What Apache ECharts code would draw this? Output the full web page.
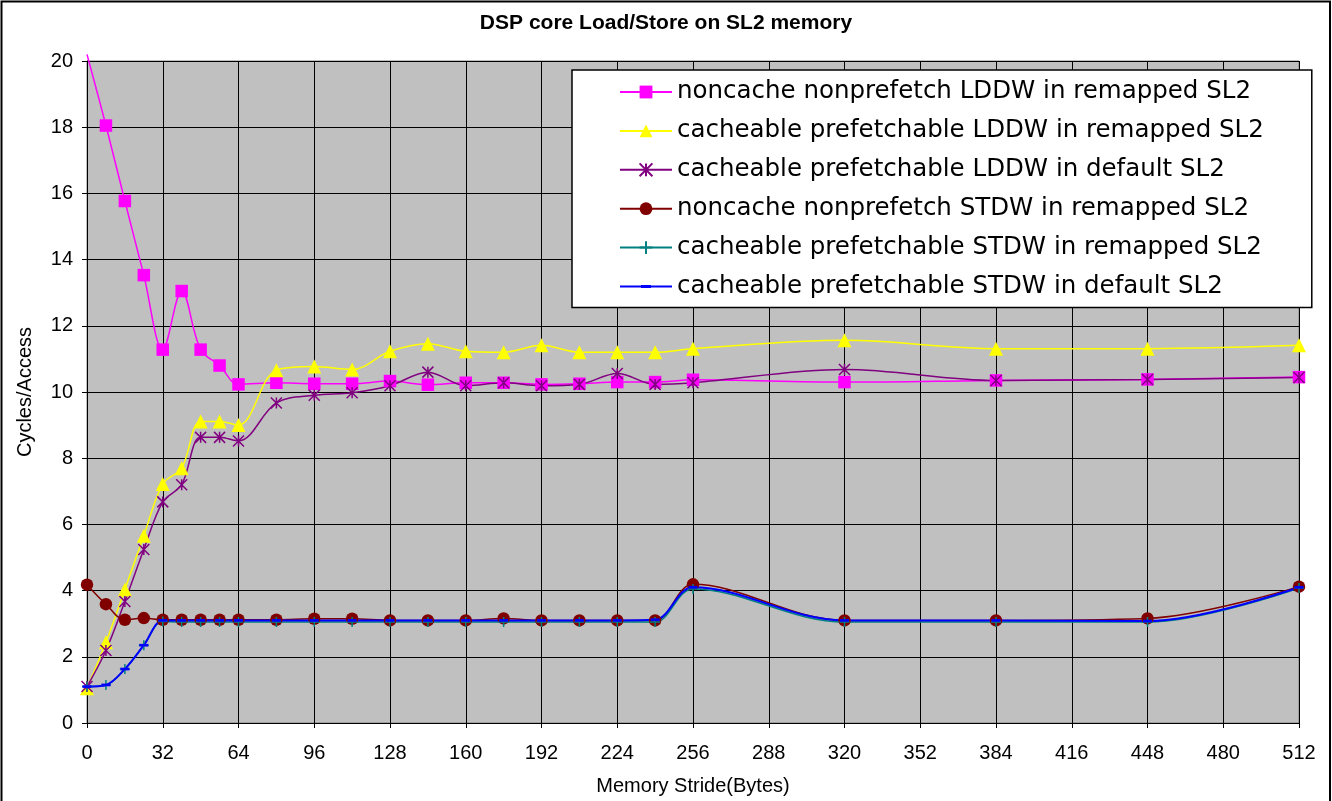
<!DOCTYPE html>
<html>
<head>
<meta charset="utf-8">
<script src="https://cdn.jsdelivr.net/npm/echarts@6/dist/echarts.min.js"></script>
<style>
  html,body{margin:0;padding:0;background:#fff;}
  #main{width:1332px;height:801px;}
</style>
</head>
<body>
<div id="main"></div>
<script>
// memory stride in bytes (x values)
var strides = [0,8,16,24,32,40,48,56,64,80,96,112,128,144,160,176,192,208,224,240,256,320,384,448,512];

var ldNoncacheRemap = [20.2,18.05,15.77,13.53,11.28,13.05,11.28,10.8,10.23,10.28,10.25,10.25,10.33,10.22,10.28,10.28,10.23,10.25,10.3,10.3,10.37,10.3,10.35,10.38,10.45];
var ldCacheRemap    = [1.05,2.44,4.03,5.66,7.22,7.7,9.11,9.11,9.0,10.66,10.77,10.68,11.23,11.46,11.23,11.2,11.41,11.2,11.2,11.2,11.31,11.56,11.31,11.31,11.41];
var ldCacheDefault  = [1.1,2.19,3.67,5.24,6.68,7.2,8.63,8.63,8.52,9.67,9.9,9.98,10.19,10.6,10.19,10.28,10.19,10.23,10.56,10.23,10.28,10.68,10.35,10.38,10.44];
var stNoncacheRemap = [4.18,3.59,3.12,3.17,3.12,3.12,3.12,3.12,3.12,3.12,3.15,3.15,3.1,3.1,3.1,3.16,3.1,3.1,3.1,3.1,4.19,3.1,3.1,3.16,4.12];
var stCacheRemap    = [1.1,1.15,1.63,2.35,3.07,3.05,3.05,3.05,3.05,3.05,3.05,3.05,3.05,3.05,3.05,3.05,3.05,3.05,3.05,3.05,4.05,3.05,3.05,3.05,4.08];
var stCacheDefault  = [1.1,1.15,1.63,2.35,3.1,3.1,3.1,3.1,3.1,3.1,3.1,3.1,3.1,3.1,3.1,3.1,3.1,3.1,3.1,3.12,4.1,3.1,3.1,3.08,4.1];

var names = [
  'noncache nonprefetch LDDW in remapped SL2',
  'cacheable prefetchable LDDW in remapped SL2',
  'cacheable prefetchable LDDW in default SL2',
  'noncache nonprefetch STDW in remapped SL2',
  'cacheable prefetchable STDW in remapped SL2',
  'cacheable prefetchable STDW in default SL2'
];

var yMax = 20;
var font = '"Liberation Sans", Arial, sans-serif';

function pairs(vals){
  return strides.map(function(x,i){
    // points above the plot keep the line but lose the marker, like excel
    if (vals[i] > yMax) return {value:[x,vals[i]], symbol:'none'};
    return [x, vals[i]];
  });
}

function mkSeries(name, vals, color, symbol, size, extra){
  var s = {
    name: name,
    type: 'line',
    smooth: 0.35,
    data: pairs(vals),
    symbol: symbol,
    symbolSize: size,
    symbolKeepAspect: true,
    lineStyle: {color: color, width: 1.5},
    itemStyle: {color: color},
    emphasis: {disabled: true}
  };
  for (var k in extra) s[k] = extra[k];
  return s;
}

// legend entries; the blue dash one gets its own icon (line + flat dash)
var legendData = names.map(function(n, i){
  if (i === 5) return {name: n, icon: 'path://M0,0.5L52,0.5L52,2.5L0,2.5Z M21,0L31,0L31,3L21,3Z'};
  return n;
});

var myChart = echarts.init(document.getElementById('main'));
var option = {
  backgroundColor: '#fff',
  animation: false,
  title: {
    text: 'DSP core Load/Store on SL2 memory',
    left: 'center',
    top: 13,
    padding: 0,
    textStyle: {fontFamily: font, fontWeight: 'bold', fontSize: 21, color: '#000'}
  },
  graphic: [{
    type: 'polyline',
    shape: {points: [[1.5,801],[1.5,1.5],[1330,1.5],[1330,801]]},
    style: {stroke: '#000', lineWidth: 2, fill: null},
    silent: true
  }],
  legend: {
    orient: 'vertical',
    left: 572,
    top: 70,
    padding: [9, 48, 8, 47],
    itemWidth: 52,
    itemHeight: 16,
    itemGap: 12.9,
    backgroundColor: '#fff',
    borderColor: '#000',
    borderWidth: 1.5,
    borderRadius: 0,
    selectedMode: false,
    textStyle: {fontFamily: '"DejaVu Sans", sans-serif', fontSize: 24.5, lineHeight: 26, color: '#000'},
    data: legendData
  },
  grid: {
    left: 87, right: 33, top: 61, bottom: 75,
    show: true,
    backgroundColor: '#C0C0C0',
    borderColor: '#808080',
    borderWidth: 1
  },
  xAxis: {
    type: 'value',
    min: 0, max: 512, interval: 32,
    name: 'Memory Stride(Bytes)',
    nameLocation: 'middle',
    nameGap: 53,
    nameTextStyle: {fontFamily: font, fontSize: 20, color: '#000'},
    axisLine: {lineStyle: {color: '#000', width: 1}},
    axisTick: {show: true, length: 5, inside: false, lineStyle: {color: '#000'}},
    axisLabel: {fontFamily: font, fontSize: 20, color: '#000', margin: 20},
    splitLine: {show: true, lineStyle: {color: '#000', width: 1}}
  },
  yAxis: {
    type: 'value',
    min: 0, max: yMax, interval: 2,
    name: 'Cycles/Access',
    nameLocation: 'middle',
    nameRotate: 90,
    nameGap: 52,
    nameTextStyle: {fontFamily: font, fontSize: 20, color: '#000'},
    axisLine: {show: true, lineStyle: {color: '#000', width: 1}},
    axisTick: {show: true, length: 5, inside: false, lineStyle: {color: '#000'}},
    axisLabel: {fontFamily: font, fontSize: 20, color: '#000', margin: 14},
    splitLine: {show: true, lineStyle: {color: '#000', width: 1}}
  },
  series: [
    mkSeries(names[0], ldNoncacheRemap, '#FF00FF', 'rect', 12.5, {clip: false}),
    mkSeries(names[1], ldCacheRemap, '#FFFF00', 'triangle', 14),
    mkSeries(names[2], ldCacheDefault, '#800080', 'path://M0,0L10,10M0,10L10,0M5,0L5,10', 11,
      {itemStyle: {color: '#800080', borderColor: '#800080', borderWidth: 1.5}}),
    mkSeries(names[3], stNoncacheRemap, '#800000', 'circle', 12.5),
    mkSeries(names[4], stCacheRemap, '#008080', 'path://M5,0L5,10M0,5L10,5', 10,
      {itemStyle: {color: '#008080', borderColor: '#008080', borderWidth: 1.5}}),
    mkSeries(names[5], stCacheDefault, '#0000FF', 'path://M0,0L10,0L10,3L0,3Z', 9,
      {lineStyle: {color: '#0000FF', width: 2}})
  ]
};
myChart.setOption(option);
</script>
</body>
</html>
